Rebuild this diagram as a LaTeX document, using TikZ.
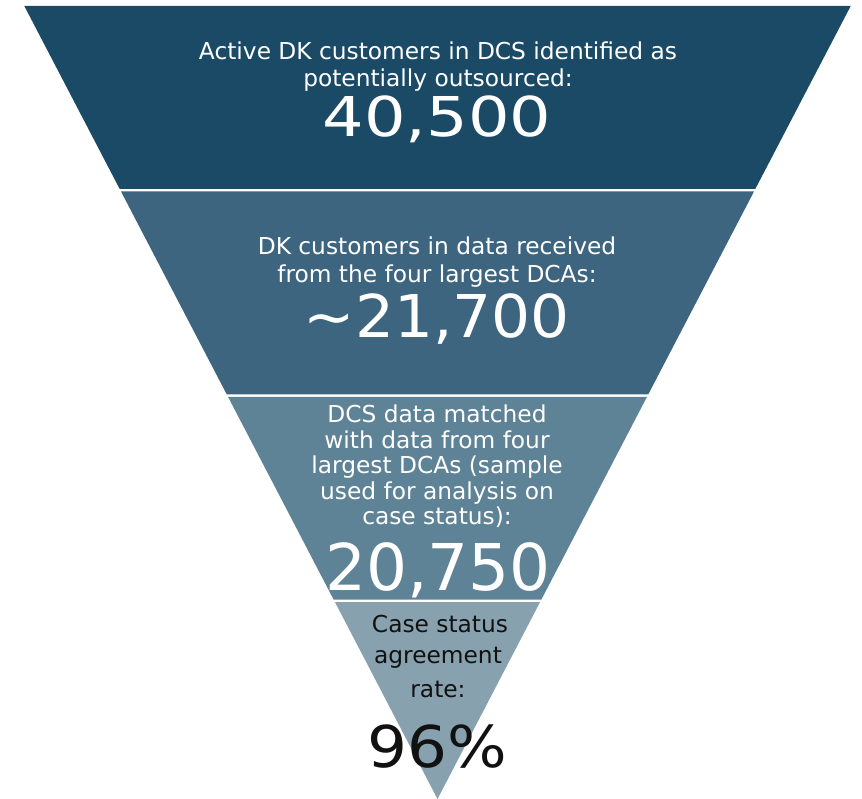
\documentclass[tikz,border=0pt]{standalone}
\usepackage{fontspec}
\setmainfont{DejaVu Sans}
\definecolor{bandA}{HTML}{1B4A66}
\definecolor{bandB}{HTML}{3E6580}
\definecolor{bandC}{HTML}{5F8396}
\definecolor{bandD}{HTML}{87A1AF}
\definecolor{ink}{HTML}{111111}
\tikzset{
  lblbig/.style={anchor=base, inner sep=0pt, text=white, font=\fontsize{23.3}{28}\selectfont},
  lblmid/.style={anchor=base, inner sep=0pt, text=white, font=\fontsize{23.3}{28}\selectfont},
  lbldark/.style={anchor=base, inner sep=0pt, text=ink, font=\fontsize{23.3}{28}\selectfont},
  numtxt/.style={anchor=base, inner sep=0pt, text=white},
  numdark/.style={anchor=base, inner sep=0pt, text=ink}
}
\begin{document}
\begin{tikzpicture}[x=1pt,y=-1pt]
\useasboundingbox (0,0) rectangle (862,799);
% funnel bands
\fill[bandA] (24.3,6) -- (850.7,6) -- (755.3,189) -- (119.7,189) -- cycle;
\fill[bandB] (121,191.5) -- (754,191.5) -- (648.2,394.5) -- (226.8,394.5) -- cycle;
\fill[bandC] (228.1,397) -- (646.9,397) -- (541.4,599.5) -- (333.6,599.5) -- cycle;
\fill[bandD] (334.9,602) -- (540.1,602) -- (437.5,799) -- cycle;
% band 1
\node[lblbig] (a1) at (438,60) {Active DK customers in DCS identified as};
\node[lblbig] (a2) at (438,87) {potentially outsourced:};
\node[numtxt] (an) at (437,137) {\scalebox{1.19}[1]{\fontsize{54.9}{60}\selectfont 40,500}};
% band 2
\node[lblbig] (b1) at (437,255) {DK customers in data received};
\node[lblbig] (b2) at (437,283) {from the four largest DCAs:};
\node[numtxt] (bn) at (437,338) {\scalebox{1.04}[1]{\fontsize{59}{64}\selectfont \textasciitilde21,700}};
% band 3
\node[lblmid] (c1) at (437,422) {DCS data matched};
\node[lblmid] (c2) at (437,448) {with data from four};
\node[lblmid] (c3) at (437,473) {largest DCAs (sample};
\node[lblmid] (c4) at (437,499) {used for analysis on};
\node[lblmid] (c5) at (437,524) {case status):};
\node[numtxt] (cn) at (438,590) {\fontsize{64.5}{70}\selectfont 20,750};
% band 4
\node[lbldark] (d1) at (440,632) {Case status};
\node[lbldark] (d2) at (438,663) {agreement};
\node[lbldark] (d3) at (438,697) {rate:};
\node[numdark] (dn) at (437,767) {\scalebox{1.09}[1]{\fontsize{57.6}{62}\selectfont 96\%}};
\end{tikzpicture}
\end{document}
